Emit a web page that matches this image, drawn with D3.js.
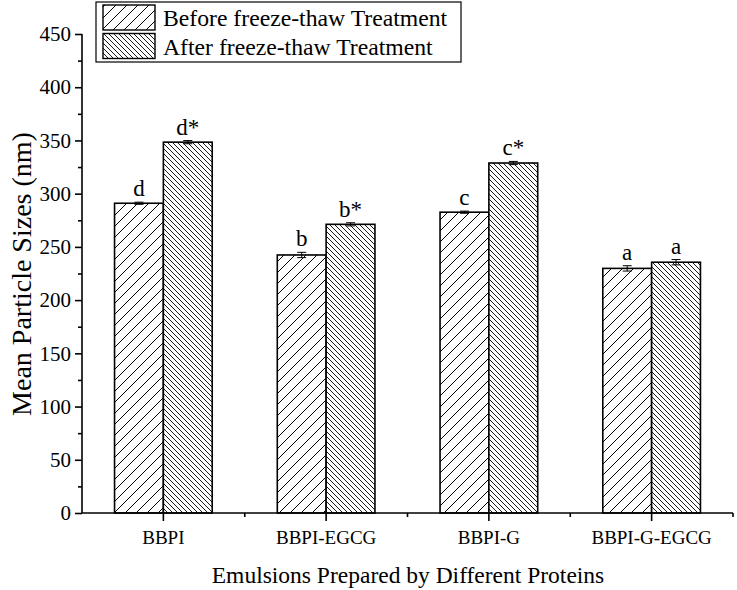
<!DOCTYPE html>
<html><head><meta charset="utf-8">
<script src="https://cdn.jsdelivr.net/npm/d3@7"></script>
<style>body{margin:0;background:#fff}svg{display:block}svg text{font-family:"Liberation Serif","Times New Roman",serif !important;fill:#000}</style>
</head><body><svg id="c" width="737" height="590"></svg>
<script>
const categories = ["BBPI","BBPI-EGCG","BBPI-G","BBPI-G-EGCG"];
const seriesNames = ["Before freeze-thaw Treatment","After freeze-thaw Treatment"];
const beforeValues = [291, 242.4, 282.6, 229.8];
const afterValues  = [348.4, 271.2, 328.8, 235.6];
const beforeErrors = [1, 2.5, 1, 2.5];
const afterErrors  = [1.5, 1.5, 1.5, 2.5];
const beforeLabels = ["d","b","c","a"];
const afterLabels  = ["d*","b*","c*","a"];
const yTicks = [0,50,100,150,200,250,300,350,400,450];
const yMinorTicks = [25,75,125,175,225,275,325,375,425];

const svg = d3.select("#c");
const defs = svg.append("defs");
const p1 = defs.append("pattern").attr("id","pBefore").attr("patternUnits","userSpaceOnUse")
  .attr("width",11).attr("height",11);
p1.append("rect").attr("width",11).attr("height",11).attr("fill","#fff");
p1.append("path").attr("d","M0,11 L11,0 M-2,2 L2,-2 M9,13 L13,9").attr("stroke","#000").attr("stroke-width",1);
const p2 = defs.append("pattern").attr("id","pAfter").attr("patternUnits","userSpaceOnUse")
  .attr("width",5).attr("height",5);
p2.append("rect").attr("width",5).attr("height",5).attr("fill","#fff");
p2.append("path").attr("d","M0,0 L5,5 M-1,4 L1,6 M4,-1 L6,1").attr("stroke","#000").attr("stroke-width",0.9);

const x0 = 82, x1 = 733, yTop = 34, yBot = 513;
const x = d3.scaleBand().domain(categories).range([x0,x1]).paddingInner(0.4).paddingOuter(0.2);
const xs = d3.scaleBand().domain([0,1]).range([0,x.bandwidth()]);
const y = d3.scaleLinear().domain([0,450]).range([yBot,yTop]);

const rows = categories.map((c,i)=>[
  {c, s:0, v:beforeValues[i], e:beforeErrors[i], l:beforeLabels[i]},
  {c, s:1, v:afterValues[i], e:afterErrors[i], l:afterLabels[i]}
]).flat();

const g = svg.append("g");
g.selectAll("rect.bar").data(rows).join("rect").attr("class","bar")
  .attr("x",d=>x(d.c)+xs(d.s)).attr("y",d=>y(d.v))
  .attr("width",xs.bandwidth()).attr("height",d=>y(0)-y(d.v))
  .attr("fill",d=>d.s===0?"url(#pBefore)":"url(#pAfter)")
  .attr("stroke","#000").attr("stroke-width",1.6);

const eb = g.selectAll("g.eb").data(rows).join("g").attr("class","eb");
eb.append("path").attr("d",d=>{
  const cx = x(d.c)+xs(d.s)+xs.bandwidth()/2;
  const t=y(d.v+d.e), b=y(d.v-d.e);
  return `M${cx-4.5},${t}H${cx+4.5}M${cx},${t}V${b}M${cx-4.5},${b}H${cx+4.5}`;
}).attr("stroke","#000").attr("stroke-width",1).attr("fill","none");

g.selectAll("text.lab").data(rows).join("text").attr("class","lab")
  .attr("x",d=>x(d.c)+xs(d.s)+xs.bandwidth()/2)
  .attr("y",d=>y(d.v+d.e)-6)
  .attr("text-anchor","middle").attr("font-size",23).text(d=>d.l);

const yAxis = svg.append("g").attr("transform",`translate(${x0},0)`)
  .call(d3.axisLeft(y).tickValues(yTicks).tickSize(7).tickPadding(4).tickFormat(d3.format("d")));
svg.append("g").attr("transform",`translate(${x0},0)`)
  .call(d3.axisLeft(y).tickValues(yMinorTicks).tickSize(4).tickFormat(""))
  .call(a=>a.select(".domain").remove());
yAxis.select(".domain").attr("d",`M0,${yTop}V${yBot}`);
yAxis.selectAll("text").attr("font-size",21);

const xAxis = svg.append("g").attr("transform",`translate(0,${yBot})`)
  .call(d3.axisBottom(x).tickSize(8).tickPadding(10));
xAxis.select(".domain").attr("d",`M${x0},0H${x1}`);
xAxis.selectAll("text").attr("font-size",19);
const bounds = categories.slice(1).map(c=>x(c)-x.step()*x.paddingInner()/2).concat([x1]);
svg.append("g").selectAll("line").data(bounds).join("line")
  .attr("x1",d=>d).attr("x2",d=>d).attr("y1",yBot).attr("y2",yBot+4)
  .attr("stroke","#000").attr("stroke-width",1.6);
svg.selectAll(".domain, .tick line").attr("stroke","#000").attr("stroke-width",1.6);

svg.append("text").attr("x",408).attr("y",583).attr("text-anchor","middle")
  .attr("font-size",23.5).text("Emulsions Prepared by Different Proteins");
svg.append("text").attr("transform",`translate(31,274) rotate(-90)`)
  .attr("text-anchor","middle").attr("font-size",28).text("Mean Particle Sizes (nm)");

const lg = svg.append("g");
lg.append("rect").attr("x",96).attr("y",2).attr("width",365).attr("height",60)
  .attr("fill","#fff").attr("stroke","#000").attr("stroke-width",1.2);
seriesNames.forEach((n,i)=>{
  const yy = 5 + i*28.5;
  lg.append("rect").attr("x",103).attr("y",yy).attr("width",52).attr("height",25)
    .attr("fill",i===0?"url(#pBefore)":"url(#pAfter)").attr("stroke","#000").attr("stroke-width",1.4);
  lg.append("text").attr("x",163).attr("y",yy+21).attr("font-size",23.7).text(n);
});
</script></body></html>
